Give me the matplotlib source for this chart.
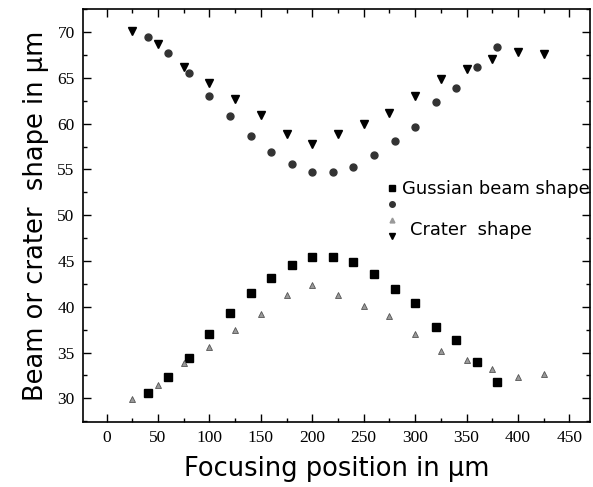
import matplotlib
matplotlib.use("Agg")
import matplotlib.pyplot as plt
from matplotlib.ticker import MultipleLocator
from matplotlib.lines import Line2D

# Gaussian beam shape (squares)
sq_x = [40, 60, 80, 100, 120, 140, 160, 180, 200, 220, 240, 260, 280, 300, 320, 340, 360, 380]
sq_y = [30.55, 32.36, 34.44, 37.0, 39.36, 41.48, 43.11, 44.57, 45.41, 45.41, 44.86, 43.58, 41.95, 40.45, 37.83, 36.37, 34.0, 31.75]
# Gaussian beam shape (circles)
ci_x = [40, 60, 80, 100, 120, 140, 160, 180, 200, 220, 240, 260, 280, 300, 320, 340, 360, 380]
ci_y = [69.52, 67.7, 65.58, 63.04, 60.85, 58.67, 56.95, 55.6, 54.77, 54.77, 55.31, 56.59, 58.12, 59.68, 62.42, 63.88, 66.24, 68.43]
# Crater shape (triangles up)
tu_x = [25, 50, 75, 100, 125, 150, 175, 200, 225, 250, 275, 300, 325, 350, 375, 400, 425]
tu_y = [29.89, 31.45, 33.82, 35.64, 37.46, 39.21, 41.26, 42.38, 41.25, 40.12, 39.03, 37.03, 35.2, 34.19, 33.17, 32.36, 32.66]
# Crater shape (triangles down)
td_x = [25, 50, 75, 100, 125, 150, 175, 200, 225, 250, 275, 300, 325, 350, 375, 400, 425]
td_y = [70.14, 68.69, 66.24, 64.43, 62.68, 60.96, 58.89, 57.79, 58.89, 59.98, 61.15, 63.04, 64.86, 65.99, 67.05, 67.85, 67.6]

fig = plt.figure(figsize=(5.93, 4.87), dpi=100)
ax = fig.add_axes([0.140, 0.134, 0.855, 0.847])

ax.plot(sq_x, sq_y, linestyle='none', marker='s', ms=5.5, color='black')
ax.plot(ci_x, ci_y, linestyle='none', marker='o', ms=5, color='#333333')
ax.plot(tu_x, tu_y, linestyle='none', marker='^', ms=5, color='#999999', mec='#555555', mew=0.6)
ax.plot(td_x, td_y, linestyle='none', marker='v', ms=6, color='black')

ax.set_xlim(-22.9, 470)
ax.set_ylim(27.44, 72.5)
ax.xaxis.set_major_locator(MultipleLocator(50))
ax.xaxis.set_minor_locator(MultipleLocator(25))
ax.yaxis.set_major_locator(MultipleLocator(5))
ax.yaxis.set_minor_locator(MultipleLocator(2.5))
ax.tick_params(which='both', direction='in', top=True, right=True, width=1.0)
ax.tick_params(which='major', length=6)
ax.tick_params(which='minor', length=3)
ax.tick_params(axis='both', labelsize=12.5, pad=6)
for lab in ax.get_xticklabels() + ax.get_yticklabels():
    lab.set_fontfamily('Liberation Serif')
for sp in ax.spines.values():
    sp.set_linewidth(1.2)

ax.set_xlabel('Focusing position in \u03bcm', fontsize=18.5, family='DejaVu Sans', labelpad=7)
ax.set_ylabel('Beam or crater  shape in \u03bcm', fontsize=18.5, family='DejaVu Sans', labelpad=6)

handles = [
    Line2D([], [], linestyle='none', marker='s', ms=4, color='black'),
    Line2D([], [], linestyle='none', marker='o', ms=4, color='#333333'),
    Line2D([], [], linestyle='none', marker='^', ms=3.5, color='#999999'),
    Line2D([], [], linestyle='none', marker='v', ms=4.5, color='black'),
]
labels = [' ', ' ', ' ', ' ']
leg = ax.legend(handles, labels, loc='upper left', bbox_to_anchor=(0.592, 0.59),
                frameon=False, handlelength=0.6, handletextpad=0.2,
                labelspacing=0.55, borderpad=0, prop={'family': 'DejaVu Sans', 'size': 8})
ax.text(0.6286, 0.5643, 'Gussian beam shape', transform=ax.transAxes, fontsize=12.9,
        family='DejaVu Sans', va='center', ha='left')
ax.text(0.645, 0.4648, 'Crater  shape', transform=ax.transAxes, fontsize=12.9,
        family='DejaVu Sans', va='center', ha='left')

fig.savefig('out.png', dpi=100)
